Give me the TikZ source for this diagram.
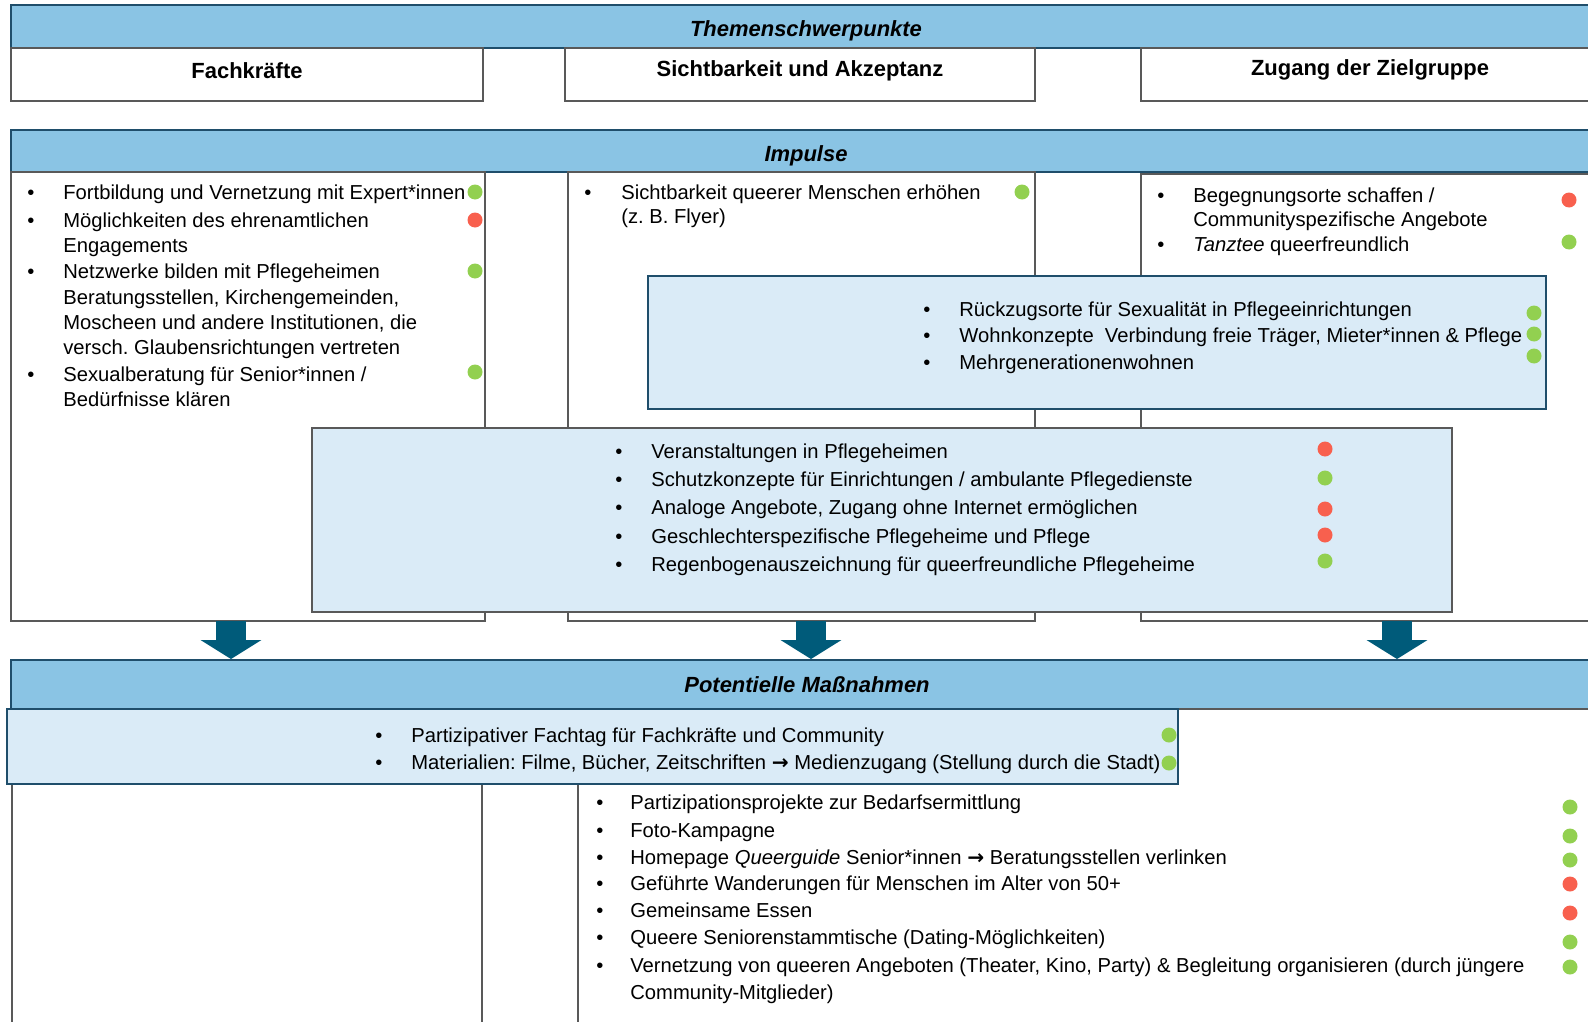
\documentclass[tikz,border=0pt]{standalone}
\usepackage{fontspec}
\setmainfont{Liberation Sans}
\newfontfamily\arrowfont{DejaVu Sans}
\usetikzlibrary{arrows.meta,fit}
\frenchspacing

\definecolor{barblue}{HTML}{8AC4E4}
\definecolor{barline}{HTML}{1F4E6B}
\definecolor{paleblue}{HTML}{DAEBF7}
\definecolor{arrowteal}{HTML}{005B7A}
\definecolor{okgreen}{HTML}{92D050}
\definecolor{nored}{HTML}{F8604E}
\definecolor{framegray}{HTML}{595959}

\newcommand{\toarrow}{{\arrowfont\bfseries →}}

\tikzset{
  bar/.style={draw=barline, line width=1.1pt, fill=barblue, inner sep=0pt},
  colbox/.style={draw=framegray, line width=0.6pt, inner sep=0pt},
  overlay/.style={draw=barline, line width=1pt, fill=paleblue, inner sep=0pt},
  bartitle/.style={font=\fontsize{12.5}{15}\selectfont\bfseries\itshape},
  coltitle/.style={font=\fontsize{12.5}{15}\selectfont\bfseries},
  txt/.style={anchor=mid west, inner sep=0pt, yshift=-0.06cm, font=\fontsize{11.5}{14}\selectfont},
  bul/.style={inner sep=0pt, yshift=-0.06cm, font=\fontsize{11.5}{14}\selectfont},
  gdot/.style={circle, fill=okgreen, inner sep=0pt, minimum size=0.3cm},
  rdot/.style={circle, fill=nored, inner sep=0pt, minimum size=0.3cm},
  bigarrow/.style={draw=arrowteal, line width=0.6cm, -{Triangle[length=0.38cm, width=1.2cm]}},
}

\begin{document}
\begin{tikzpicture}[x=0.02cm, y=-0.02cm]
\useasboundingbox (0,0) rectangle (1588,1021);
\clip (0,0) rectangle (1588,1021);

% Themenschwerpunkte
\node[bar, fit={(11,5) (1600,48)}] (themen) {};
\node[bartitle] (themenT) at (806,31) {Themenschwerpunkte};
\node[colbox, fit={(11,48) (483,101)}] (fkHead) {};
\node[colbox, fit={(565,48) (1035,101)}] (skHead) {};
\node[colbox, fit={(1141,48) (1600,101)}] (zgHead) {};
\node[coltitle] (fkT) at (247,71) {Fachkräfte};
\node[coltitle] (skT) at (800,71) {Sichtbarkeit und Akzeptanz};
\node[coltitle] (zgT) at (1370,70) {Zugang der Zielgruppe};

% Impulse
\node[bar, fit={(11,130) (1600,172)}] (impulse) {};
\node[bartitle] (impulseT) at (806,156) {Impulse};
\node[colbox, fit={(11,172) (485,621)}] (fkCol) {};
\node[colbox, fit={(568,172) (1035,621)}] (skCol) {};
\node[colbox, fit={(1141,174) (1600,621)}] (zgCol) {};

% Fachkraefte
\foreach \y/\t [count=\i] in {192/{Fortbildung und Vernetzung mit Expert*innen},
    220/{Möglichkeiten des ehrenamtlichen}, 245/{Engagements},
    271/{Netzwerke bilden mit Pflegeheimen}, 297/{Beratungsstellen, Kirchengemeinden,},
    322/{Moscheen und andere Institutionen, die}, 347/{versch. Glaubensrichtungen vertreten},
    374/{Sexualberatung für Senior*innen /}, 399/{Bedürfnisse klären}}
  \node[txt] (fk\i) at (63,\y) {\t};
\foreach \y [count=\i] in {192,220,271,374}
  \node[bul] (fkb\i) at (31,\y) {\textbullet};
\foreach \y/\c [count=\i] in {192/gdot,220/rdot,271/gdot,372/gdot}
  \node[\c] (fkd\i) at (475,\y) {};

% Sichtbarkeit
\node[txt] (sk1) at (621,192) {Sichtbarkeit queerer Menschen erhöhen};
\node[txt] (sk2) at (621,216) {(z. B. Flyer)};
\node[bul] (skb1) at (588,192) {\textbullet};
\node[gdot] (skd1) at (1022,192) {};

% Zugang
\node[txt] (zg1) at (1193,195) {Begegnungsorte schaffen /};
\node[txt] (zg2) at (1193,219) {Communityspezifische Angebote};
\node[txt] (zg3) at (1193,244) {\textit{Tanztee} queerfreundlich};
\node[bul] (zgb1) at (1161,195) {\textbullet};
\node[bul] (zgb2) at (1161,244) {\textbullet};
\node[rdot] (zgd1) at (1569,200) {};
\node[gdot] (zgd2) at (1569,242) {};

% Wohnen
\node[overlay, fit={(648,276) (1546,409)}] (wohn) {};
\foreach \y/\t [count=\i] in {309/{Rückzugsorte für Sexualität in Pflegeeinrichtungen},
    335/{Wohnkonzepte\ \ Verbindung freie Träger, Mieter*innen \& Pflege},
    362/{Mehrgenerationenwohnen}}
  {\node[txt] (wo\i) at (959,\y) {\t};
   \node[bul] (wob\i) at (927,\y) {\textbullet};}
\foreach \y [count=\i] in {313,334,356}
  \node[gdot] (wod\i) at (1534,\y) {};

% Pflege
\node[overlay, draw=framegray, fit={(312,428) (1452,612)}] (pflege) {};
\foreach \y/\t [count=\i] in {451/{Veranstaltungen in Pflegeheimen},
    479/{Schutzkonzepte für Einrichtungen / ambulante Pflegedienste},
    507/{Analoge Angebote, Zugang ohne Internet ermöglichen},
    536/{Geschlechterspezifische Pflegeheime und Pflege},
    564/{Regenbogenauszeichnung für queerfreundliche Pflegeheime}}
  {\node[txt] (pf\i) at (651,\y) {\t};
   \node[bul] (pfb\i) at (619,\y) {\textbullet};}
\foreach \y/\c [count=\i] in {449/rdot,478/gdot,509/rdot,535/rdot,561/gdot}
  \node[\c] (pfd\i) at (1325,\y) {};

% Potentielle Massnahmen
\node[bar, fit={(11,660) (1600,709)}] (mass) {};
\node[bartitle] (massT) at (807,685) {Potentielle Maßnahmen};
\foreach \x [count=\i] in {231,811,1397} {
  \coordinate (a\i) at (\x,621);
  \draw[bigarrow] (a\i) -- (a\i |- mass.north);
}

\node[colbox, fit={(12,709) (482,1040)}] (fkLow) {};
\node[colbox, fit={(578,709) (1600,1040)}] (skLow) {};
\node[overlay, fit={(7,709) (1178,784)}] (fachtag) {};
\foreach \y/\t [count=\i] in {735/{Partizipativer Fachtag für Fachkräfte und Community},
    762/{Materialien: Filme, Bücher, Zeitschriften \toarrow{} Medienzugang (Stellung durch die Stadt)}}
  {\node[txt] (ft\i) at (411,\y) {\t};
   \node[bul] (ftb\i) at (379,\y) {\textbullet};}
\foreach \y [count=\i] in {735,763}
  \node[gdot] (ftd\i) at (1169,\y) {};

\foreach \y/\t [count=\i] in {802/{Partizipationsprojekte zur Bedarfsermittlung},
    830/{Foto-Kampagne},
    857/{Homepage \textit{Queerguide} Senior*innen \toarrow{} Beratungsstellen verlinken},
    883/{Geführte Wanderungen für Menschen im Alter von 50+},
    910/{Gemeinsame Essen},
    937/{Queere Seniorenstammtische (Dating-Möglichkeiten)},
    965/{Vernetzung von queeren Angeboten (Theater, Kino, Party) \& Begleitung organisieren (durch jüngere}}
  {\node[txt] (ma\i) at (630,\y) {\t};
   \node[bul] (mab\i) at (600,\y) {\textbullet};}
\node[txt] (ma8) at (630,992) {Community-Mitglieder)};
\foreach \y/\c [count=\i] in {807/gdot,836/gdot,860/gdot,884/rdot,913/rdot,942/gdot,967/gdot}
  \node[\c] (mad\i) at (1570,\y) {};
\end{tikzpicture}
\end{document}
